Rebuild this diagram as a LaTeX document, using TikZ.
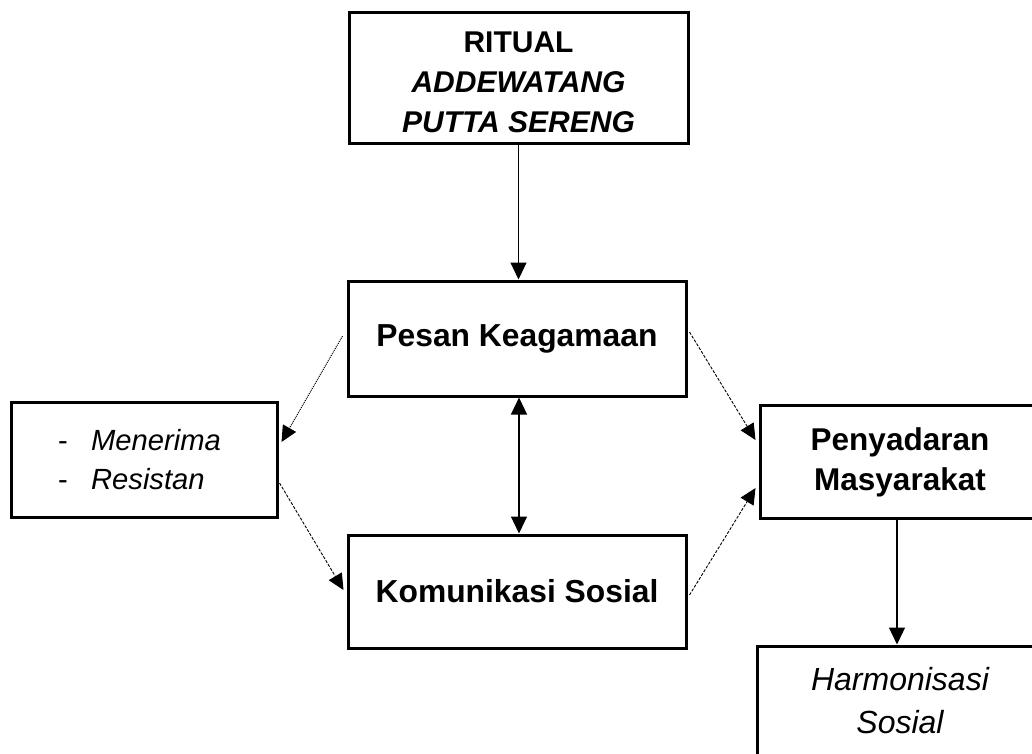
\documentclass[tikz,border=0pt]{standalone}
\usepackage{fontspec}
\setmainfont{Liberation Sans}
\usetikzlibrary{arrows.meta,calc}
\begin{document}
\begin{tikzpicture}[x=1pt,y=-1pt,
  box/.style={draw=black,line width=3pt,rectangle,inner sep=0pt,align=center},
  conn/.style={line width=1.2pt,-{Triangle[length=17pt,width=16pt]}},
  dconn/.style={line width=0.9pt,dash pattern=on 3pt off 1.5pt,-{Triangle[length=16pt,width=15pt]}},
  dotconn/.style={line width=1pt,dash pattern=on 1pt off 1pt,-{Triangle[length=16pt,width=15pt]}}
]
\clip (0,0) rectangle (1032,753);
\fill[white] (0,0) rectangle (1032,753);

\node[box,minimum width=339pt,minimum height=131pt,
  label={[name=toptext,align=center,yshift=-5pt,font=\fontsize{30}{40}\selectfont\bfseries]center:RITUAL\\\textit{ADDEWATANG}\\\textit{PUTTA SERENG}}] (top) at (518.5,77.5) {};
\node[box,minimum width=338pt,minimum height=115pt,font=\fontsize{31.8}{40}\selectfont\bfseries] (pesan) at (517,338.5)
  {Pesan Keagamaan};
\node[box,minimum width=338pt,minimum height=113pt,font=\fontsize{31.8}{40}\selectfont\bfseries] (kom) at (517,591.5)
  {Komunikasi Sosial};
\node[box,minimum width=266pt,minimum height=115pt,align=left,font=\fontsize{29.2}{39}\selectfont] (left) at (144,459.5)
  {\makebox[33pt][l]{-}\textit{Menerima}\hspace*{9pt}\\\makebox[33pt][l]{-}\textit{Resistan}};
\node[box,minimum width=280pt,minimum height=113pt,font=\fontsize{31.5}{40}\selectfont\bfseries] (peny) at (900,462)
  {Penyadaran\\Masyarakat};
\node[box,minimum width=286pt,minimum height=110pt,font=\fontsize{32}{43}\selectfont\itshape] (harm) at (900,701)
  {Harmonisasi\\Sosial};

\draw[conn] (top.south) -- (top.south |- pesan.north);
\draw[line width=1.2pt,{Triangle[length=17pt,width=16pt]}-{Triangle[length=17pt,width=16pt]}]
  ($(pesan.south)+(2,0)$) -- ($(kom.north)+(2,0)$);
\draw[dotconn] ($(pesan.west)+(-4,-2.5)$) -- ($(left.east)+(3,-17.5)$);
\draw[dconn] ($(left.east)+(1,23.5)$) -- ($(kom.west)+(-3,-1.5)$);
\draw[dconn] ($(pesan.east)+(2,-6.5)$) -- ($(peny.west)+(-3,-22)$);
\draw[dconn] ($(kom.east)+(2,3.5)$) -- ($(peny.west)+(-3,26)$);
\draw[conn] ($(peny.south)+(-3,0)$) -- ($(harm.north)+(-3,0)$);
\end{tikzpicture}
\end{document}
